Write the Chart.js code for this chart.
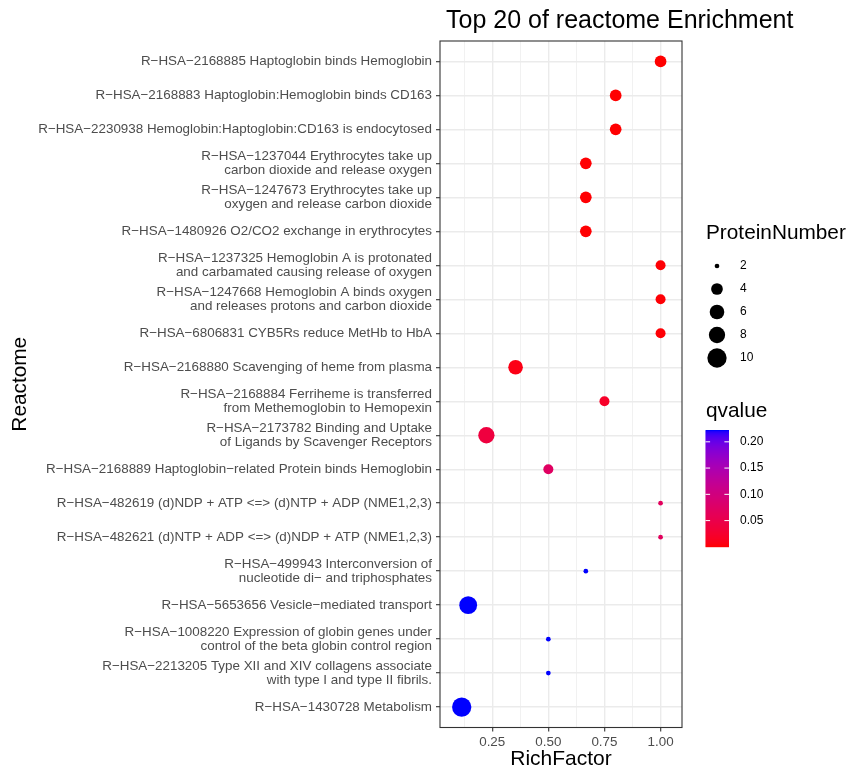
<!DOCTYPE html>
<html><head><meta charset="utf-8">
<script src="https://cdn.jsdelivr.net/npm/chart.js@4.4.0/dist/chart.umd.min.js"></script>
<style>html,body{margin:0;padding:0;background:#fff;}</style>
</head><body>
<canvas id="c" width="853" height="773"></canvas>
<script>
// ---------------- data ----------------
const chartTitle = "Top 20 of reactome Enrichment";
const categories = [
  "R−HSA−2168885 Haptoglobin binds Hemoglobin",
  "R−HSA−2168883 Haptoglobin:Hemoglobin binds CD163",
  "R−HSA−2230938 Hemoglobin:Haptoglobin:CD163 is endocytosed",
  "R−HSA−1237044 Erythrocytes take up\ncarbon dioxide and release oxygen",
  "R−HSA−1247673 Erythrocytes take up\noxygen and release carbon dioxide",
  "R−HSA−1480926 O2/CO2 exchange in erythrocytes",
  "R−HSA−1237325 Hemoglobin A is protonated\nand carbamated causing release of oxygen",
  "R−HSA−1247668 Hemoglobin A binds oxygen\nand releases protons and carbon dioxide",
  "R−HSA−6806831 CYB5Rs reduce MetHb to HbA",
  "R−HSA−2168880 Scavenging of heme from plasma",
  "R−HSA−2168884 Ferriheme is transferred\nfrom Methemoglobin to Hemopexin",
  "R−HSA−2173782 Binding and Uptake\nof Ligands by Scavenger Receptors",
  "R−HSA−2168889 Haptoglobin−related Protein binds Hemoglobin",
  "R−HSA−482619 (d)NDP + ATP <=> (d)NTP + ADP (NME1,2,3)",
  "R−HSA−482621 (d)NTP + ADP <=> (d)NDP + ATP (NME1,2,3)",
  "R−HSA−499943 Interconversion of\nnucleotide di− and triphosphates",
  "R−HSA−5653656 Vesicle−mediated transport",
  "R−HSA−1008220 Expression of globin genes under\ncontrol of the beta globin control region",
  "R−HSA−2213205 Type XII and XIV collagens associate\nwith type I and type II fibrils.",
  "R−HSA−1430728 Metabolism"
];
const richFactor    = [1.0, 0.8, 0.8, 0.667, 0.667, 0.667, 1.0, 1.0, 1.0, 0.354, 0.75, 0.224, 0.5, 1.0, 1.0, 0.667, 0.143, 0.5, 0.5, 0.114];
const proteinNumber = [4, 4, 4, 4, 4, 4, 3, 3, 3, 6, 3, 8, 3, 2, 2, 2, 9, 2, 2, 10];
const qvalue        = [0.0003, 0.0008, 0.0008, 0.0015, 0.0015, 0.0015, 0.002, 0.002, 0.002, 0.009, 0.022, 0.04, 0.073, 0.068, 0.068, 0.2225, 0.2225, 0.2225, 0.2225, 0.2225];
const xTickValues   = [0.25, 0.50, 0.75, 1.00];
const xMinorValues  = [0.125, 0.375, 0.625, 0.875];
const sizeBreaks    = [2, 4, 6, 8, 10];
const qBreaks       = [0.05, 0.10, 0.15, 0.20];

// ---------------- helpers ----------------
function sizeToRadius(n) {
  const a = [[2, 2.35], [3, 5.0], [4, 5.85], [6, 7.3], [8, 8.15], [10, 9.65], [12, 10.9]];
  if (n <= a[0][0]) return a[0][1];
  for (let i = 1; i < a.length; i++) {
    if (n <= a[i][0]) {
      const t = (n - a[i-1][0]) / (a[i][0] - a[i-1][0]);
      return a[i-1][1] + t * (a[i][1] - a[i-1][1]);
    }
  }
  return a[a.length-1][1];
}
function srgb2lin(c){ c/=255; return c<=0.04045? c/12.92 : Math.pow((c+0.055)/1.055,2.4); }
function lin2srgb(c){ c = c<=0.0031308? 12.92*c : 1.055*Math.pow(c,1/2.4)-0.055; return Math.round(Math.max(0,Math.min(1,c))*255); }
const Xn=0.95047, Yn=1.0, Zn=1.08883;
function rgb2lab(r,g,b){
  const R=srgb2lin(r),G=srgb2lin(g),B=srgb2lin(b);
  const X=0.4124564*R+0.3575761*G+0.1804375*B;
  const Y=0.2126729*R+0.7151522*G+0.0721750*B;
  const Z=0.0193339*R+0.1191920*G+0.9503041*B;
  const f=t=> t>0.008856? Math.cbrt(t) : 7.787*t+16/116;
  const fx=f(X/Xn), fy=f(Y/Yn), fz=f(Z/Zn);
  return [116*fy-16, 500*(fx-fy), 200*(fy-fz)];
}
function lab2rgb(L,a,b){
  const fy=(L+16)/116, fx=fy+a/500, fz=fy-b/200;
  const fi=t=> t*t*t>0.008856? t*t*t : (t-16/116)/7.787;
  const X=Xn*fi(fx), Y=Yn*fi(fy), Z=Zn*fi(fz);
  const R= 3.2404542*X-1.5371385*Y-0.4985314*Z;
  const G=-0.9692660*X+1.8760108*Y+0.0415560*Z;
  const B= 0.0556434*X-0.2040259*Y+1.0572252*Z;
  return [lin2srgb(R),lin2srgb(G),lin2srgb(B)];
}
const labLow = rgb2lab(255,0,0), labHigh = rgb2lab(0,0,255);
const qMin = Math.min(...qvalue), qMax = Math.max(...qvalue);
function qColor(q){
  let t=(q-qMin)/(qMax-qMin); t=Math.max(0,Math.min(1,t));
  const c=lab2rgb(labLow[0]+t*(labHigh[0]-labLow[0]), labLow[1]+t*(labHigh[1]-labLow[1]), labLow[2]+t*(labHigh[2]-labLow[2]));
  return `rgb(${c[0]},${c[1]},${c[2]})`;
}
const FONT = "'Liberation Sans', Arial, Helvetica, sans-serif";
const isMajor = v => xTickValues.some(m => Math.abs(m - v) < 1e-9);

// ---------------- plugins ----------------
const decor = {
  id: 'decor',
  afterDatasetsDraw(chart) {
    const {ctx, chartArea: ca} = chart;
    ctx.save();
    ctx.strokeStyle = '#333333';
    ctx.lineWidth = 1.1;
    ctx.strokeRect(ca.left, ca.top, ca.right - ca.left, ca.bottom - ca.top);
    ctx.restore();
  },
  afterDraw(chart) {
    const {ctx} = chart;
    ctx.save();
    // title
    ctx.fillStyle = '#000';
    ctx.font = `25px ${FONT}`;
    ctx.textAlign = 'left';
    ctx.textBaseline = 'alphabetic';
    ctx.fillText(chartTitle, 446, 28);

    // size legend
    ctx.font = `20.8px ${FONT}`;
    ctx.fillText('ProteinNumber', 706, 239);
    const sizeY = [266, 289, 312, 335, 358];
    sizeBreaks.forEach((s, i) => {
      ctx.beginPath();
      ctx.fillStyle = '#000';
      ctx.arc(717, sizeY[i], sizeToRadius(s), 0, Math.PI * 2);
      ctx.fill();
      ctx.font = `12px ${FONT}`;
      ctx.textBaseline = 'middle';
      ctx.fillText(String(s), 740, sizeY[i]);
    });

    // colour bar legend
    ctx.textBaseline = 'alphabetic';
    ctx.font = `20.8px ${FONT}`;
    ctx.fillText('qvalue', 706, 417);
    const bx = 705.5, bw = 23.5, by = 430, bh = 116.7;
    for (let k = 0; k < bh; k++) {
      const q = qMax - (k / bh) * (qMax - qMin);
      ctx.fillStyle = qColor(q);
      ctx.fillRect(bx, by + k, bw, 1.2);
    }
    ctx.strokeStyle = '#ffffff';
    ctx.lineWidth = 1;
    ctx.font = `12px ${FONT}`;
    ctx.textBaseline = 'middle';
    qBreaks.forEach(q => {
      const y = by + bh - (q - qMin) / (qMax - qMin) * bh;
      ctx.beginPath();
      ctx.moveTo(bx, y); ctx.lineTo(bx + 4.6, y);
      ctx.moveTo(bx + bw - 4.6, y); ctx.lineTo(bx + bw, y);
      ctx.stroke();
      ctx.fillStyle = '#000';
      ctx.fillText(q.toFixed(2), 740, y);
    });
    ctx.restore();
  }
};

// ---------------- chart ----------------
new Chart(document.getElementById('c'), {
  type: 'scatter',
  data: {
    datasets: [{
      data: richFactor.map((x, i) => ({x: x, y: i})),
      pointRadius: c => sizeToRadius(proteinNumber[c.dataIndex]),
      pointHoverRadius: c => sizeToRadius(proteinNumber[c.dataIndex]),
      pointBackgroundColor: c => qColor(qvalue[c.dataIndex]),
      pointBorderWidth: 0,
      borderWidth: 0
    }]
  },
  options: {
    responsive: false,
    animation: false,
    events: [],
    layout: {padding: {left: 0, right: 171, top: 41, bottom: 0}},
    plugins: {legend: {display: false}, tooltip: {enabled: false}, title: {display: false}},
    scales: {
      x: {
        type: 'linear',
        min: 0.0173, max: 1.0955,
        afterBuildTicks: s => { s.ticks = xMinorValues.concat(xTickValues).sort((a,b)=>a-b).map(v => ({value: v})); },
        afterFit: s => { s.height = 45.5; },
        ticks: {
          autoSkip: false, maxRotation: 0, padding: 3,
          color: '#4D4D4D', font: {family: FONT, size: 13.4},
          callback: v => isMajor(v) ? Number(v).toFixed(2) : ''
        },
        grid: {
          color: '#EBEBEB',
          lineWidth: c => (c.tick && isMajor(c.tick.value)) ? 1.4 : 0.7,
          tickColor: c => (c.tick && isMajor(c.tick.value)) ? '#333333' : 'rgba(0,0,0,0)',
          tickLength: 4, tickWidth: 1.1
        },
        border: {display: false},
        title: {display: true, text: 'RichFactor', color: '#000', font: {family: FONT, size: 21}, padding: {top: 0, bottom: 1}}
      },
      y: {
        type: 'linear',
        reverse: true,
        min: -0.6, max: categories.length - 0.4,
        afterBuildTicks: s => { s.ticks = categories.map((c, i) => ({value: i})); },
        afterFit: s => { s.width = 440; },
        ticks: {
          autoSkip: false, padding: 4,
          color: '#4D4D4D', font: {family: FONT, size: 13.4, lineHeight: 1.067},
          callback: v => { const s = categories[Math.round(v)]; return s.indexOf('\n') >= 0 ? s.split('\n') : s; }
        },
        grid: {color: '#EBEBEB', lineWidth: 1.4, tickColor: '#333333', tickLength: 4, tickWidth: 1.1},
        border: {display: false},
        title: {display: true, text: 'Reactome', color: '#000', font: {family: FONT, size: 20.8}, padding: {top: 8, bottom: 0}}
      }
    }
  },
  plugins: [decor]
});
</script>
</body></html>
